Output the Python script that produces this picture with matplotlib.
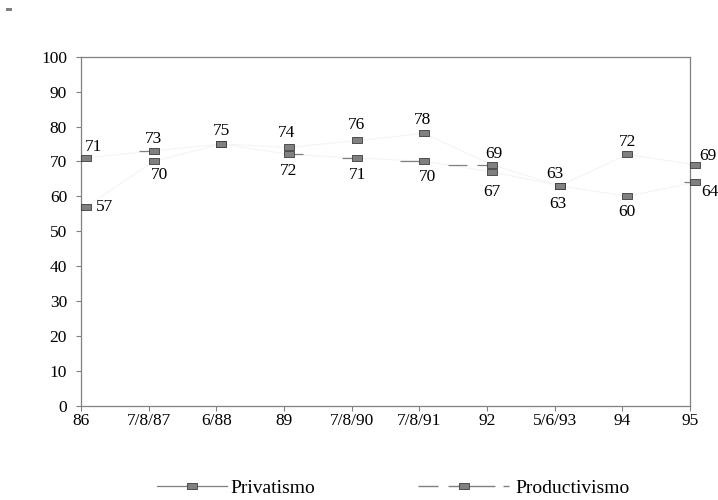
import matplotlib
matplotlib.use('Agg')
import matplotlib.pyplot as plt
import matplotlib.transforms as mtransforms
from matplotlib.lines import Line2D
from matplotlib.patches import Rectangle
from matplotlib.path import Path

# ---------------- data ----------------
categories = ['86', '7/8/87', '6/88', '89', '7/8/90', '7/8/91', '92', '5/6/93', '94', '95']
privatismo = [71, 73, 75, 74, 76, 78, 69, 63, 72, 69]
productivismo = [57, 70, 75, 72, 71, 70, 67, 63, 60, 64]
y_ticks = [0, 10, 20, 30, 40, 50, 60, 70, 80, 90, 100]

# ---------------- styles ----------------
GRAY = '#808080'
EDGE = '#3c3c3c'
FAINT = '#f4f4f4'
# label offsets in pixels (dx, dy); None = no label
priv_label_off = [(8, 11), (0, 12), (0, 13), (-2, 14), (0, 15), (-2, 13), (2, 11), (-5, 12), (0, 12), (13, 9)]
prod_label_off = [(19, 0), (6, -14), None, (0, -17), (1, -17), (3, -16), (0, -20), (-2, -18), (0, -16), (15, -10)]
# short dark horizontal stubs: (series, index, dx_start_px, dx_end_px)
stubs = [('priv', 1, -15, 0), ('prod', 3, 0, 14), ('prod', 4, -15, 0), ('prod', 5, -24, 0),
         ('priv', 6, -44, -25), ('priv', 6, -15, 0), ('prod', 9, -11, 0)]

plt.rcParams['font.family'] = ['Liberation Serif', 'DejaVu Serif']

fig = plt.figure(figsize=(7.18, 5.0), dpi=100)
W, H = 718, 500
ax = fig.add_axes([81 / W, 94.3 / H, 609 / W, 349 / H])

x = list(range(len(categories)))
ax.set_xlim(0, len(categories) - 1)
ax.set_ylim(0, 100)
ax.set_xticks(x)
ax.set_xticklabels(categories)
ax.set_yticks(y_ticks)
for s in ax.spines.values():
    s.set_color(GRAY)
    s.set_linewidth(0.9)
ax.tick_params(axis='both', direction='out', length=3.5, width=0.8, color=GRAY,
               labelsize=12.5, labelcolor='black')
ax.tick_params(axis='x', pad=2)
ax.tick_params(axis='y', pad=6.5)

off = mtransforms.offset_copy(ax.transData, fig=fig, x=5, y=0, units='dots')

rect = [(-1, -0.52), (1, -0.52), (1, 0.52), (-1, 0.52), (-1, -0.52)]
MS = 7.6

series = {'priv': privatismo, 'prod': productivismo}

for vals in (privatismo, productivismo):
    ax.plot(x, vals, color=FAINT, lw=0.8, transform=off, clip_on=False, zorder=2)

for (name, idx, d0, d1) in stubs:
    v = series[name][idx]
    path = Path([(d0, 0), (d1, 0)], [Path.MOVETO, Path.LINETO])
    ms = 2 * max(abs(d0), abs(d1)) * 0.72
    ax.plot([idx], [v], ls='none', marker=path, ms=ms, mfc='none', mec=GRAY, mew=0.9,
            transform=off, clip_on=False, zorder=3)

for vals in (privatismo, productivismo):
    ax.plot(x, vals, ls='none', marker=rect, ms=MS, mfc=GRAY, mec=EDGE, mew=0.6,
            transform=off, clip_on=False, zorder=4)

for vals, offs in ((privatismo, priv_label_off), (productivismo, prod_label_off)):
    for i, v in enumerate(vals):
        o = offs[i]
        if o is None:
            continue
        ax.annotate(str(v), xy=(i, v), xycoords=off, xytext=(o[0] * 0.72, o[1] * 0.72),
                    textcoords='offset points', ha='center', va='center',
                    fontsize=12.5, annotation_clip=False, zorder=5)

# legend
priv_h = Line2D([], [], color=GRAY, lw=0.9, marker=rect, ms=MS, mfc=GRAY, mec=EDGE, mew=0.6)
prod_h = Line2D([], [], color=GRAY, lw=1.0, ls=(0, (14.4, 7.2, 33.8, 5.8, 5, 100)),
                marker=rect, ms=MS, mfc=GRAY, mec=EDGE, mew=0.6)
fig.legend([priv_h], ['Privatismo'], loc='center left', bbox_to_anchor=(157 / W, 1 - 488 / H),
           frameon=False, fontsize=14, handlelength=3.6, handletextpad=0.15,
           borderpad=0, borderaxespad=0)
fig.legend([prod_h], ['Productivismo'], loc='center left', bbox_to_anchor=(418 / W, 1 - 488 / H),
           frameon=False, fontsize=14, handlelength=4.7, handletextpad=0.3,
           borderpad=0, borderaxespad=0)

# small top-left mark
fig.patches.append(Rectangle((6 / W, 1 - 10.7 / H), 6 / W, 2.7 / H, transform=fig.transFigure,
                             facecolor=GRAY, edgecolor='none'))

fig.savefig('out.png', dpi=100)
